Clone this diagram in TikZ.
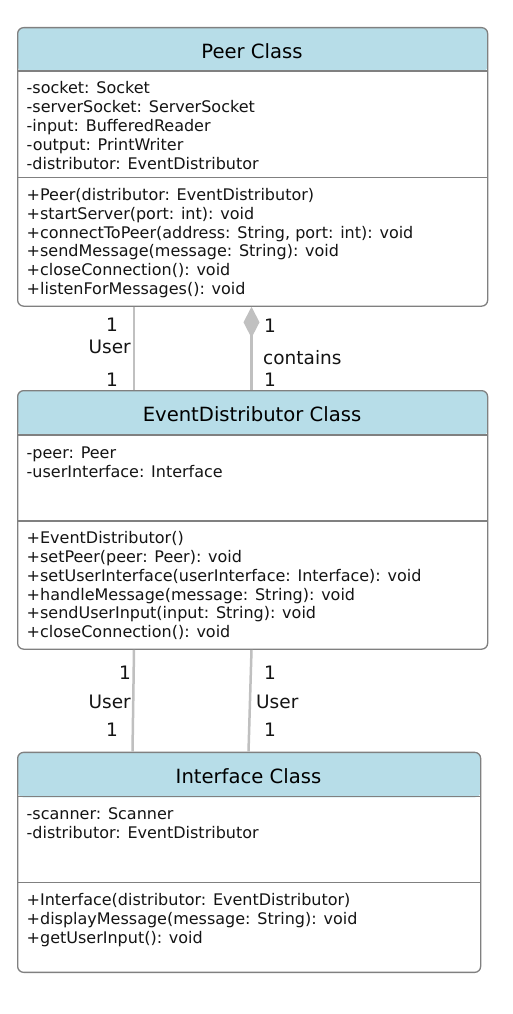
\documentclass[tikz,border=0pt]{standalone}
\usepackage{fontspec}
\setmainfont{DejaVu Sans}
\usetikzlibrary{arrows.meta}

\definecolor{headBlue}{RGB}{183,221,232}
\definecolor{boxGray}{RGB}{128,128,128}
\definecolor{linkGray}{RGB}{192,192,192}
\definecolor{textDark}{RGB}{20,20,20}

\tikzset{
  classbox/.style={draw=boxGray, line width=1.3pt, rounded corners=6pt, anchor=north west, inner sep=0pt,
    path picture={\fill[headBlue] (path picture bounding box.north west) rectangle ([yshift=-#1]path picture bounding box.north east);}},
  sepline/.style={draw=boxGray, line width=1.3pt},
  classtitle/.style={font=\fontsize{19.6}{22}\selectfont, anchor=base, inner sep=0pt, text=black},
  member/.style={font=\fontsize{16}{18.75}\selectfont, anchor=base west, inner sep=0pt, text=textDark},
  mult/.style={font=\fontsize{18.5}{22}\selectfont, inner sep=0pt, text=textDark},
  assoc/.style={draw=linkGray, line width=2.5pt},
}

\begin{document}
\begin{tikzpicture}[x=1pt,y=-1pt]
  \useasboundingbox[fill=white] (0,0) rectangle (513,1014);

  % classes
  \node[classbox=44pt, minimum width=470pt, minimum height=278.5pt] (peer) at (17,27) {};
  \draw[sepline] (17,71) -- (487,71);
  \draw[sepline] (17,177.5) -- (487,177.5);
  \node[classtitle] (peerTitle) at (252,58.3) {Peer Class};
  \foreach \t [count=\i] in {-socket: Socket, -serverSocket: ServerSocket, -input: BufferedReader,
      -output: PrintWriter, -distributor: EventDistributor}
    \node[member] (peerAttr\i) at (26.5,{94+18.75*(\i-1)}) {\t};
  \foreach \t [count=\i] in {+Peer(distributor: EventDistributor), +startServer(port: int): void,
      {+connectToPeer(address: String, port: int): void}, +sendMessage(message: String): void,
      +closeConnection(): void, +listenForMessages(): void}
    \node[member] (peerOp\i) at (26.5,{200.5+18.75*(\i-1)}) {\t};

  \node[classbox=45pt, minimum width=470pt, minimum height=258.5pt] (distributor) at (17,390) {};
  \draw[sepline] (17,435) -- (487,435);
  \draw[sepline] (17,521) -- (487,521);
  \node[classtitle] (distributorTitle) at (252,421.5) {EventDistributor Class};
  \foreach \t [count=\i] in {-peer: Peer, -userInterface: Interface}
    \node[member] (distributorAttr\i) at (26.5,{458.3+18.75*(\i-1)}) {\t};
  \foreach \t [count=\i] in {+EventDistributor(), +setPeer(peer: Peer): void,
      +setUserInterface(userInterface: Interface): void, +handleMessage(message: String): void,
      +sendUserInput(input: String): void, +closeConnection(): void}
    \node[member] (distributorOp\i) at (26.5,{543.8+18.75*(\i-1)}) {\t};

  \node[classbox=45pt, minimum width=463pt, minimum height=220pt] (iface) at (17,751.7) {};
  \draw[sepline] (17,796.7) -- (480,796.7);
  \draw[sepline] (17,882.7) -- (480,882.7);
  \node[classtitle] (ifaceTitle) at (248.5,783) {Interface Class};
  \foreach \t [count=\i] in {-scanner: Scanner, -distributor: EventDistributor}
    \node[member] (ifaceAttr\i) at (26.5,{819.7+18.75*(\i-1)}) {\t};
  \foreach \t [count=\i] in {+Interface(distributor: EventDistributor),
      +displayMessage(message: String): void, +getUserInput(): void}
    \node[member] (ifaceOp\i) at (26.5,{905.7+18.75*(\i-1)}) {\t};

  % associations
  \draw[assoc] ([xshift=117pt]peer.south west) -- ([xshift=117pt]distributor.north west);
  \draw[assoc, {Diamond[length=31pt,width=16pt,fill=linkGray,line width=0pt]}-]
    ([xshift=234.5pt]peer.south west) -- ([xshift=234.5pt]distributor.north west);
  \draw[assoc] ([xshift=117pt]distributor.south west) -- ([xshift=115.5pt]iface.north west);
  \draw[assoc] ([xshift=234.5pt]distributor.south west) -- ([xshift=231.5pt]iface.north west);

  \node[mult, anchor=east] (peerUserA) at (118,325) {1};
  \node[mult, anchor=east] (peerUserLabel) at (131,347) {User};
  \node[mult, anchor=east] (peerUserB) at (118,380) {1};
  \node[mult, anchor=west] (peerHasA) at (264,326) {1};
  \node[mult, anchor=west] (peerHasLabel) at (263,358) {contains};
  \node[mult, anchor=west] (peerHasB) at (264,380) {1};

  \node[mult, anchor=east] (leftUserA) at (131,673) {1};
  \node[mult, anchor=east] (leftUserLabel) at (131,702) {User};
  \node[mult, anchor=east] (leftUserB) at (118,730) {1};
  \node[mult, anchor=west] (rightUserA) at (264,673) {1};
  \node[mult, anchor=west] (rightUserLabel) at (256,702) {User};
  \node[mult, anchor=west] (rightUserB) at (264,730) {1};
\end{tikzpicture}
\end{document}
